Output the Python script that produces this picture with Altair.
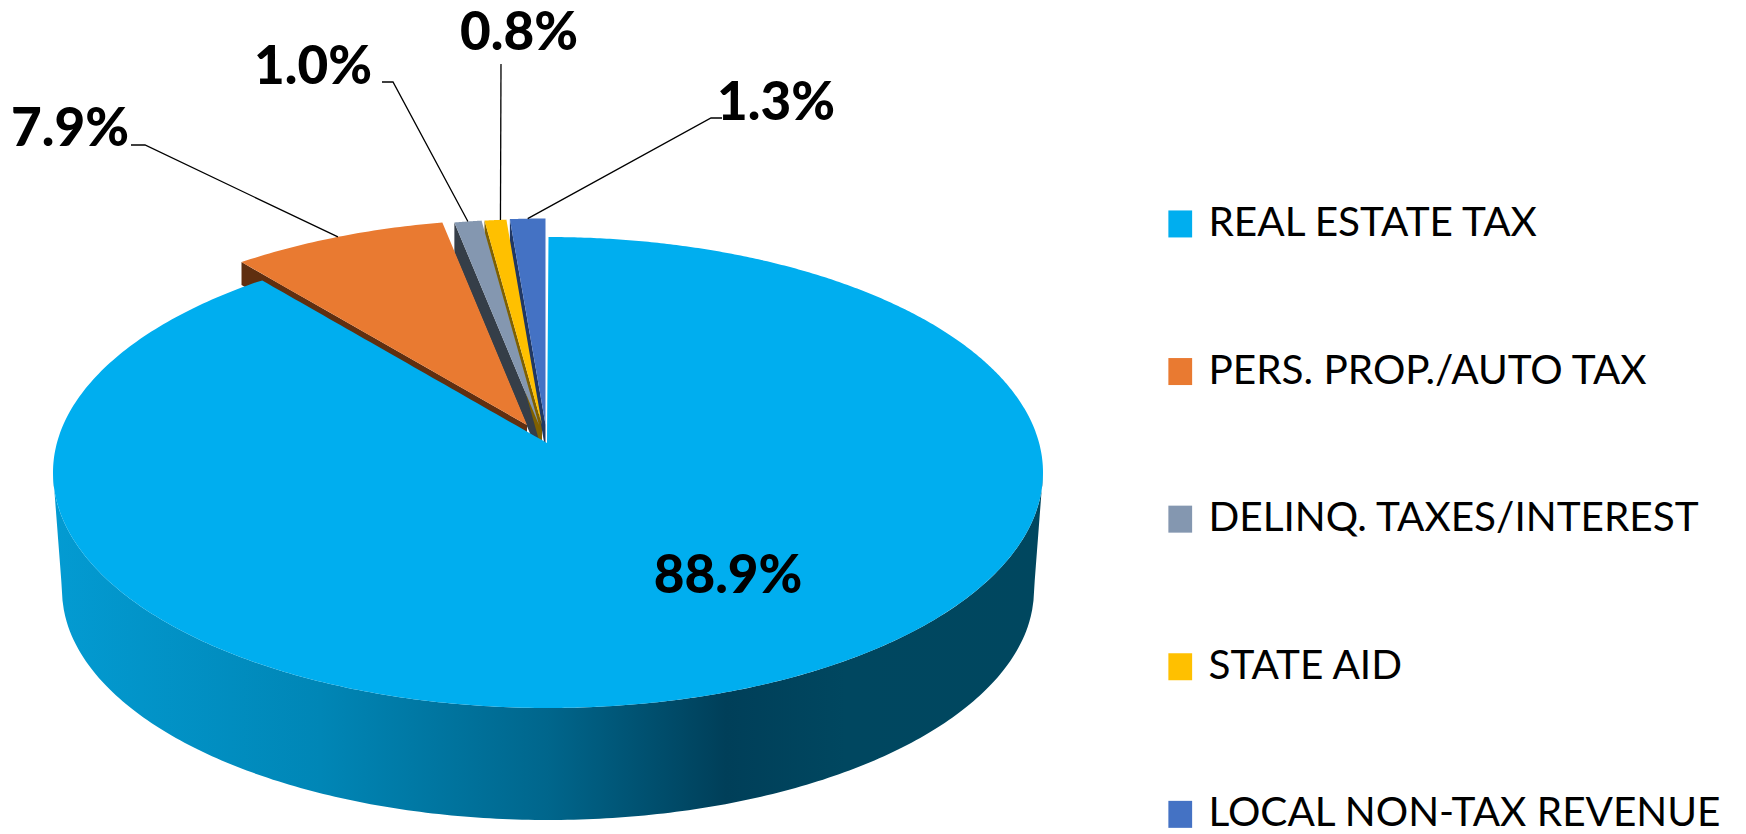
import math
import altair as alt
import pandas as pd

# ---- chart values ----
CATEGORIES = ["REAL ESTATE TAX", "PERS. PROP./AUTO TAX", "DELINQ. TAXES/INTEREST", "STATE AID", "LOCAL NON-TAX REVENUE"]
SHARES = [88.9, 7.9, 1.0, 0.8, 1.3]
COLORS = ["#00AEEF", "#E97A31", "#8497B0", "#FFC000", "#4472C4"]
WALL_COLORS = ["#602F10", "#353E48", "#7F6000", "#203864"]
LABELS = ["88.9%", "7.9%", "1.0%", "0.8%", "1.3%"]

# ---- page and pie layout (pixels on the page) ----
W, H = 1730, 826
XD = [8, 8 + W]
YD = [8 + H, 8]
CX, CY, RX, RY = 548.0, 472.5, 495.0, 235.5    # top face ellipse
AX, AY = 547.0, 443.0                           # apex in perspective
LCY, LRX, LRY = 590.0, 486.0, 230.0             # lower rim ellipse
K, A, B = 0.1253, 231.8, 491.1                  # perspective of the disc
EXPLODE = {"PERS. PROP./AUTO TAX": (-20, -18, 23), "DELINQ. TAXES/INTEREST": (-8, -18, 30),
           "STATE AID": (-5, -18, 26), "LOCAL NON-TAX REVENUE": (-1.5, -18.5, 26)}
LABEL_POS = {"88.9%": (728, 577), "7.9%": (70, 130), "1.0%": (313, 68), "0.8%": (519, 34), "1.3%": (776, 104)}
ELBOWS = {"7.9%": [(131, 145), (145, 145)], "1.0%": [(382, 82), (393, 82)],
          "0.8%": [(501, 64)], "1.3%": [(722, 118), (711, 118)]}
LEADER_SHIFT = {"7.9%": 0, "1.0%": 0, "0.8%": 5, "1.3%": 0}


def disc(theta):
    """Point of the top face, angle in degrees counter-clockwise from 12 o'clock."""
    t = math.radians(theta)
    u, v = -math.sin(t), math.cos(t)
    w = 1 + K * v
    return AX + B * u / w, AY - A * v / w


def ell(x, sign):
    d = max(0.0, 1 - ((x - CX) / RX) ** 2)
    return CY + sign * RY * math.sqrt(d)


def lerp(p, q, x):
    if q[0] == p[0]:
        return p[1]
    return p[1] + (q[1] - p[1]) * (x - p[0]) / (q[0] - p[0])


# slices run counter-clockwise from 12 o'clock: last category first
angles = {}
run = 0.0
for cat, s in zip(reversed(CATEGORIES[1:]), reversed(SHARES[1:])):
    angles[cat] = (run * 3.6, (run + s) * 3.6)
    run += s
blue_end = disc(run * 3.6)

faces, walls, side = [], [], []

# main slice: outline is one valued in x on each side of the apex
N = 240
for j in range(N + 1):
    x = CX - RX * math.cos(math.pi * j / N)
    if x > AX:
        break
    top = ell(x, -1)
    if x >= blue_end[0]:
        top = lerp(blue_end, (AX, AY), x)
    faces.append(dict(c=CATEGORIES[0], px=x, py=top, low=ell(x, 1)))
faces.append(dict(c=CATEGORIES[0], px=AX, py=AY, low=ell(AX, 1)))
for j in range(N + 1):
    x = AX + 1.5 + (CX + RX - AX - 1.5) * math.sin(math.pi / 2 * j / N)
    faces.append(dict(c=CATEGORIES[0], px=x, py=ell(x, -1), low=ell(x, 1)))

# small exploded slices
for n, cat in enumerate(CATEGORIES[1:]):
    a0, a1 = angles[cat]
    dx, dy, depth = EXPLODE[cat]
    C = (disc(a1)[0] + dx, disc(a1)[1] + dy)
    T = (AX + dx, AY + dy)
    for j in range(41):
        px, py = disc(a1 + (a0 - a1) * j / 40)
        px, py = px + dx, py + dy
        faces.append(dict(c=cat, px=px, py=py, low=lerp(C, T, px)))
    faces.append(dict(c=cat, px=T[0], py=T[1], low=T[1]))
    walls.append(dict(c=cat, col=WALL_COLORS[n], px=C[0], py=C[1], low=C[1] + depth))
    walls.append(dict(c=cat, col=WALL_COLORS[n], px=T[0], py=T[1], low=T[1] + depth))

# side wall of the main slice
for j in range(N + 1):
    x = CX - RX * math.cos(math.pi * j / N)
    if x < CX - LRX:
        low = lerp((CX - RX, ell(CX - RX, 1)), (CX - LRX, LCY), x)
    elif x > CX + LRX:
        low = lerp((CX + LRX, LCY), (CX + RX, ell(CX + RX, 1)), x)
    else:
        low = LCY + LRY * math.sqrt(max(0.0, 1 - ((x - CX) / LRX) ** 2))
    side.append(dict(px=x, py=ell(x, 1), low=low))

# labels and leader lines
label_rows = [dict(t=t, px=p[0], py=p[1]) for t, p in LABEL_POS.items()]
leader_rows = []
for cat, lab in zip(CATEGORIES[1:], LABELS[1:]):
    a0, a1 = angles[cat]
    dx, dy, _ = EXPLODE[cat]
    mx, my = disc((a0 + a1) / 2)
    path = ELBOWS[lab] + [(mx + dx + LEADER_SHIFT[lab], my + dy)]
    for j, (px, py) in enumerate(path):
        leader_rows.append(dict(l=lab, i=j, px=px, py=py))

X = lambda: alt.X("px:Q", scale=alt.Scale(domain=XD, nice=False, zero=False), axis=None)
Y = lambda: alt.Y("py:Q", scale=alt.Scale(domain=YD, nice=False, zero=False), axis=None)

gradient = alt.LinearGradient(
    gradient="linear", x1=0, x2=1, y1=0, y2=0,
    stops=[alt.GradientStop(color="#039BD2", offset=0),
           alt.GradientStop(color="#0086B6", offset=0.27),
           alt.GradientStop(color="#00668C", offset=0.5),
           alt.GradientStop(color="#003F59", offset=0.68),
           alt.GradientStop(color="#004760", offset=0.8),
           alt.GradientStop(color="#00475F", offset=1)])

side_layer = alt.Chart(pd.DataFrame(side)).mark_area(color=gradient).encode(
    x=X(), y=Y(), y2=alt.Y2("low"))

wall_layer = alt.Chart(pd.DataFrame(walls)).mark_area().encode(
    x=X(), y=Y(), y2=alt.Y2("low"),
    color=alt.Color("col:N", scale=None), detail="c:N")

face_layer = alt.Chart(pd.DataFrame(faces)).mark_area(opacity=1).encode(
    x=X(), y=Y(), y2=alt.Y2("low"),
    color=alt.Color("c:N", scale=alt.Scale(domain=CATEGORIES, range=COLORS), sort=CATEGORIES,
                    legend=alt.Legend(title=None, orient="none", legendX=1152, legendY=195.7,
                                      symbolType="M-0.88,-1H0.88V1H-0.88Z", symbolSize=729,
                                      symbolStrokeWidth=0, labelFont="Lato", labelFontSize=40.5,
                                      labelColor="#000000", labelLimit=700, labelOffset=8,
                                      rowPadding=106.6, padding=0, symbolOpacity=1)))

line_layer = alt.Chart(pd.DataFrame(leader_rows)).mark_line(color="#000000", strokeWidth=1.3).encode(
    x=X(), y=Y(), order="i:Q", detail="l:N")

text_layer = alt.Chart(pd.DataFrame(label_rows)).mark_text(
    font="Lato", fontWeight=900, fontSize=53, color="#000000", baseline="middle", align="center"
).encode(x=X(), y=Y(), text="t:N")

chart = alt.layer(side_layer, wall_layer, face_layer, line_layer, text_layer).properties(
    width=W, height=H, padding=0, autosize=alt.AutoSizeParams(type="none"),
    background="#FFFFFF"
).configure_view(strokeWidth=0)

chart.save("out.html", embed_options={"renderer": "svg", "actions": False})
